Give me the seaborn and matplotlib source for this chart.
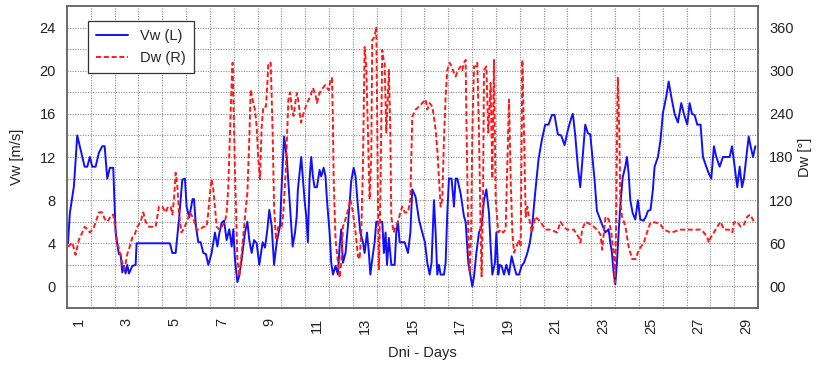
import matplotlib
matplotlib.use("Agg")
import matplotlib.pyplot as plt
import pandas as pd
import seaborn as sns
from matplotlib.lines import Line2D

# ---------------- data ----------------
vw_day = [0.54, 0.62, 0.79, 0.93, 1.07, 1.24, 1.35, 1.46, 1.56, 1.70, 1.84, 1.98, 2.08, 2.19, 2.30, 2.44,
          2.54, 2.61, 2.68, 2.75, 2.82, 2.89, 2.96, 3.03, 3.10, 3.24, 3.38, 3.42, 4.82, 4.92, 5.06, 5.20,
          5.34, 5.45, 5.52, 5.63, 5.77, 5.83, 5.91, 6.01, 6.11, 6.22, 6.33, 6.43, 6.57, 6.71, 6.81, 6.89,
          6.99, 7.09, 7.20, 7.31, 7.41, 7.48, 7.55, 7.65, 7.73, 7.83, 7.97, 8.07, 8.15, 8.25, 8.35, 8.46,
          8.57, 8.71, 8.81, 8.91, 8.99, 9.09, 9.19, 9.30, 9.44, 9.51, 9.61, 9.72, 9.86, 9.97, 10.07, 10.14,
          10.19, 10.33, 10.40, 10.47, 10.54, 10.61, 10.68, 10.75, 10.82, 10.89, 10.99, 11.10, 11.17, 11.27,
          11.35, 11.41, 11.52, 11.59, 11.66, 11.77, 11.87, 11.94, 12.01, 12.08, 12.19, 12.29, 12.43, 12.53,
          12.61, 12.71, 12.81, 12.92, 12.99, 13.09, 13.17, 13.23, 13.31, 13.41, 13.48, 13.62, 13.73, 13.80,
          13.87, 13.93, 14.01, 14.11, 14.25, 14.32, 14.39, 14.46, 14.67, 14.81, 14.91, 14.99, 15.13, 15.27,
          15.41, 15.52, 15.62, 15.72, 15.80, 15.90, 15.97, 16.04, 16.11, 16.18, 16.32, 16.39, 16.46, 16.53,
          16.64, 16.74, 16.81, 16.88, 17.02, 17.16, 17.23, 17.34, 17.44, 17.51, 17.58, 17.68, 17.79, 17.90,
          18.00, 18.10, 18.21, 18.28, 18.35, 18.46, 18.52, 18.60, 18.66, 18.74, 18.84, 18.94, 19.05, 19.16,
          19.26, 19.36, 19.47, 19.58, 19.68, 19.82, 19.92, 20.01, 20.15, 20.29, 20.43, 20.57, 20.71, 20.85,
          20.96, 21.10, 21.24, 21.38, 21.52, 21.66, 21.73, 21.83, 21.94, 22.04, 22.14, 22.25, 22.36, 22.46,
          22.56, 22.64, 22.74, 22.88, 22.98, 23.09, 23.23, 23.30, 23.37, 23.44, 23.51, 23.58, 23.65, 23.72,
          23.82, 23.93, 24.00, 24.07, 24.14, 24.24, 24.35, 24.46, 24.56, 24.70, 24.80, 24.88, 24.99, 25.09,
          25.16, 25.30, 25.41, 25.51, 25.65, 25.75, 25.86, 26.00, 26.14, 26.28, 26.39, 26.53, 26.63, 26.73,
          26.84, 26.95, 27.09, 27.19, 27.33, 27.43, 27.54, 27.65, 27.75, 27.89, 28.03, 28.21, 28.31, 28.41,
          28.52, 28.63, 28.73, 28.83, 28.91, 29.01, 29.11, 29.19, 29.29, 29.39]
vw_val = [4.0, 6.8, 9.3, 14.0, 12.7, 11.1, 11.1, 12.0, 11.1, 11.1, 12.4, 13.0, 13.0, 10.0, 11.0, 11.0,
          5.0, 3.9, 3.0, 3.0, 1.3, 1.9, 1.2, 2.0, 1.2, 1.9, 2.0, 4.0, 4.0, 3.1, 3.1, 6.2,
          9.9, 10.0, 7.4, 6.4, 8.1, 8.1, 5.6, 4.1, 4.1, 3.1, 3.0, 2.0, 3.1, 5.0, 3.7, 4.9,
          5.9, 6.1, 4.3, 5.3, 3.7, 5.3, 2.5, 0.4, 1.0, 2.5, 5.0, 6.0, 4.3, 3.1, 4.3, 4.0,
          2.0, 4.1, 3.6, 5.3, 7.1, 5.6, 2.0, 4.1, 5.6, 9.3, 13.9, 12.0, 7.4, 3.7, 5.0, 6.5,
          9.0, 12.0, 10.0, 8.0, 6.5, 4.1, 10.0, 12.0, 10.2, 9.2, 9.2, 10.8, 10.2, 11.0,
          10.2, 8.0, 5.0, 2.2, 1.1, 1.9, 1.1, 3.7, 5.3, 2.2, 3.1, 5.6, 9.8, 11.0,
          10.2, 7.4, 5.0, 4.1, 3.1, 5.0, 3.1, 1.1, 2.5, 4.1, 6.0, 6.0, 6.0, 3.1,
          5.0, 2.0, 4.5, 2.0, 2.0, 5.0, 6.0, 4.1, 4.1, 3.1, 5.0, 9.0, 8.3, 6.2,
          5.0, 4.1, 2.2, 1.1, 2.2, 8.0, 5.0, 1.1, 2.0, 1.1, 1.1, 2.2, 6.8, 10.0,
          10.0, 7.4, 10.0, 10.0, 8.6, 6.5, 6.0, 2.2, 0.9, 0.0, 0.9, 3.1, 5.0, 5.6,
          8.0, 9.0, 6.8, 3.7, 1.1, 2.2, 5.0, 1.1, 2.0, 1.9, 1.1, 2.0, 1.1, 2.8,
          1.9, 1.1, 1.1, 1.9, 2.2, 3.1, 4.0, 5.3, 8.7, 11.8, 13.6, 15.0, 15.0, 15.9,
          15.9, 14.1, 14.0, 13.1, 14.5, 15.6, 16.0, 14.0, 11.1, 9.2, 12.0, 15.0, 14.2, 14.1,
          11.8, 9.9, 7.0, 6.2, 5.6, 5.0, 5.3, 4.1, 3.1, 1.3, 0.2, 2.2, 5.0, 7.4,
          10.1, 11.1, 12.0, 10.5, 8.0, 6.8, 6.2, 8.0, 6.2, 6.1, 6.5, 7.0, 7.1, 9.0,
          11.1, 12.0, 13.6, 16.1, 17.6, 19.0, 17.6, 16.0, 15.2, 17.0, 16.0, 15.0, 17.0, 16.0,
          15.9, 15.0, 15.0, 12.0, 11.1, 10.5, 10.0, 13.0, 12.0, 11.1, 12.0, 12.0, 12.0, 13.0,
          11.1, 9.2, 11.1, 9.2, 10.0, 12.0, 13.9, 13.0, 12.0, 13.0]

dw_day = [0.54, 0.72, 0.86, 1.00, 1.14, 1.24, 1.35, 1.46, 1.60, 1.70, 1.84, 1.98, 2.08, 2.19, 2.33, 2.44,
          2.54, 2.61, 2.72, 2.82, 2.92, 3.03, 3.14, 3.24, 3.34, 3.45, 3.59, 3.70, 3.80, 3.94, 4.22, 4.29,
          4.36, 4.50, 4.64, 4.74, 4.85, 4.92, 4.99, 5.06, 5.13, 5.20, 5.30, 5.38, 5.52, 5.66, 5.80, 5.94,
          6.08, 6.22, 6.36, 6.43, 6.50, 6.57, 6.64, 6.71, 6.78, 6.89, 6.99, 7.13, 7.20, 7.27, 7.34, 7.41,
          7.45, 7.55, 7.65, 7.73, 7.83, 7.97, 8.07, 8.15, 8.21, 8.29, 8.39, 8.46, 8.53, 8.60, 8.67, 8.74,
          8.85, 8.91, 8.95, 9.05, 9.13, 9.19, 9.27, 9.37, 9.51, 9.58, 9.69, 9.79, 9.86, 9.94, 10.01, 10.08,
          10.15, 10.22, 10.32, 10.43, 10.57, 10.71, 10.82, 10.92, 10.99, 11.10, 11.24, 11.34, 11.48, 11.55,
          11.62, 11.66, 11.69, 11.77, 11.87, 11.94, 12.01, 12.08, 12.22, 12.33, 12.39, 12.50, 12.61, 12.71,
          12.78, 12.85, 12.92, 12.99, 13.06, 13.13, 13.20, 13.27, 13.31, 13.41, 13.48, 13.51, 13.55, 13.59,
          13.65, 13.73, 13.79, 13.83, 13.90, 14.01, 14.07, 14.11, 14.21, 14.29, 14.39, 14.49, 14.57, 14.67,
          14.81, 14.91, 14.99, 15.13, 15.27, 15.41, 15.55, 15.62, 15.72, 15.83, 15.90, 15.97, 16.04, 16.11,
          16.18, 16.25, 16.32, 16.39, 16.46, 16.56, 16.64, 16.74, 16.81, 16.92, 17.02, 17.09, 17.16, 17.23,
          17.27, 17.34, 17.40, 17.46, 17.51, 17.58, 17.65, 17.72, 17.79, 17.86, 17.90, 17.96, 18.00, 18.10,
          18.18, 18.28, 18.35, 18.42, 18.49, 18.60, 18.70, 18.80, 18.91, 19.05, 19.12, 19.19, 19.26, 19.36,
          19.47, 19.54, 19.61, 19.68, 19.75, 19.82, 19.89, 20.01, 20.15, 20.37, 20.58, 20.79, 21.07, 21.21,
          21.35, 21.49, 21.77, 21.98, 22.05, 22.12, 22.26, 22.47, 22.61, 22.75, 22.89, 22.96, 23.10, 23.24,
          23.34, 23.44, 23.49, 23.54, 23.60, 23.62, 23.68, 23.72, 23.79, 23.87, 23.94, 24.07, 24.22, 24.36,
          24.50, 24.71, 24.85, 24.99, 25.20, 25.41, 25.55, 25.83, 25.97, 26.25, 26.53, 26.88, 27.09, 27.23,
          27.37, 27.44, 27.51, 27.65, 27.79, 27.93, 28.07, 28.28, 28.42, 28.49, 28.63, 28.77, 28.91, 29.05,
          29.17, 29.33]
dw_val = [55, 61, 44, 65, 75, 83, 80, 75, 80, 89, 103, 103, 94, 90, 97, 100,
          79, 61, 47, 33, 24, 45, 56, 68, 72, 83, 90, 103, 90, 83, 83, 97,
          111, 111, 103, 111, 111, 100, 121, 158, 140, 103, 75, 79, 89, 103, 95, 79,
          79, 83, 83, 103, 130, 149, 135, 110, 83, 79, 83, 90, 103, 139, 214, 283,
          311, 160, 38, 14, 45, 97, 130, 204, 274, 260, 245, 222, 176, 149, 222, 250,
          250, 283, 311, 311, 214, 111, 65, 83, 83, 103, 167, 260, 270, 246, 237, 255,
          269, 255, 228, 241, 255, 264, 276, 268, 255, 269, 276, 280, 273, 285,
          290, 230, 150, 65, 33, 12, 33, 83, 97, 111, 121, 103, 75, 42,
          38, 75, 167, 333, 306, 214, 121, 180, 343, 347, 361, 262, 121, 24,
          121, 329, 315, 312, 214, 301, 214, 97, 75, 83, 90, 103, 111, 103,
          103, 121, 236, 246, 250, 255, 260, 246, 255, 250, 236, 218, 190, 150,
          111, 121, 204, 264, 301, 311, 306, 297, 292, 301, 306, 301, 311, 315,
          214, 75, 19, 75, 214, 306, 306, 311, 214, 75, 14, 121, 301, 306,
          214, 283, 150, 315, 121, 75, 79, 75, 79, 260, 150, 75, 47, 55,
          65, 55, 315, 214, 97, 111, 96, 75, 97, 90, 79, 79, 75, 90,
          83, 79, 79, 68, 61, 79, 90, 86, 83, 79, 72, 51, 97, 93,
          75, 47, 6, 75, 260, 290, 214, 121, 97, 90, 83, 55, 38, 38,
          51, 61, 76, 89, 89, 86, 79, 75, 76, 79, 79, 79, 79, 75,
          68, 61, 68, 75, 83, 90, 79, 79, 75, 89, 90, 83, 86, 97,
          100, 90]

x_ticks = list(range(1, 30, 2))
left_ticks = [0, 4, 8, 12, 16, 20, 24]
right_ticks = [0, 60, 120, 180, 240, 300, 360]
right_labels = ["00", "60", "120", "180", "240", "300", "360"]

# ---------------- style ----------------
sns.set_style("white")
plt.rcParams['font.family'] = ['Liberation Sans', 'DejaVu Sans']

W, H = 816, 366
fig = plt.figure(figsize=(W / 100, H / 100), dpi=100)
L, R, T, B = 67, 758, 6, 308
ax = fig.add_axes([L / W, 1 - B / H, (R - L) / W, (B - T) / H])
ax2 = ax.twinx()

df_vw = pd.DataFrame({"day": vw_day, "Vw": vw_val})
df_dw = pd.DataFrame({"day": dw_day, "Dw": dw_val})

blue = "#1010ff"
red = "#ff1a1a"
sns.lineplot(data=df_vw, x="day", y="Vw", ax=ax, color=blue, linewidth=1.4,
             estimator=None, sort=False, legend=False)
sns.lineplot(data=df_dw, x="day", y="Dw", ax=ax2, color=red, linewidth=1.4,
             estimator=None, sort=False, legend=False, linestyle=(0, (2.6, 1.4)))

ax.set_xlim(0.5, 29.5)
ax.set_ylim(-2, 26)
ax2.set_ylim(-30, 390)

# grid
grid_kw = dict(color="#8c8c8c", linestyle=(0, (1, 1.3)), linewidth=0.8)
ax.set_xticks(x_ticks)
ax.set_xticks([d + 0.5 for d in range(1, 29)], minor=True)
ax.set_yticks(left_ticks)
ax.set_yticks([v for v in range(2, 25, 4)], minor=True)
ax.grid(which="minor", axis="x", **grid_kw)
ax.grid(which="both", axis="y", **grid_kw)
ax.set_axisbelow(True)

ax.set_xticklabels([str(t) for t in x_ticks], rotation=90, fontsize=10.5)
ax.tick_params(axis="x", which="both", length=0, pad=7, labelcolor="#222222")
ax.tick_params(axis="y", which="both", length=0, pad=8, labelsize=10.5, labelcolor="#222222")

ax2.set_yticks(right_ticks)
ax2.set_yticklabels(right_labels)
ax2.tick_params(axis="y", length=0, pad=8, labelsize=10.5, labelcolor="#222222")
ax2.grid(False)

for a in (ax, ax2):
    for s in a.spines.values():
        s.set_color("#666666")
        s.set_linewidth(1.1)
        s.set_visible(True)

ax.set_xlabel("Dni - Days", fontsize=10.5, color="#222222")
ax.xaxis.set_label_coords(0.515, -0.125)
ax.set_ylabel("Vw [m/s]", fontsize=10.5, color="#222222")
ax.yaxis.set_label_coords(-0.062, 0.5)
ax2.set_ylabel("Dw [°]", fontsize=10.5, color="#222222")
ax2.yaxis.set_label_coords(1.058, 0.5)

handles = [Line2D([], [], color=blue, linewidth=1.4),
           Line2D([], [], color=red, linewidth=1.4, linestyle=(0, (2.6, 1.4)))]
leg = ax2.legend(handles, ["Vw (L)", "Dw (R)"], loc="upper left",
                 bbox_to_anchor=(88 / W, 1 - 21 / H), bbox_transform=fig.transFigure,
                 fontsize=10.5, frameon=True, fancybox=False, framealpha=1,
                 borderaxespad=0, handlelength=2.2, handletextpad=0.8,
                 borderpad=0.55, labelspacing=0.55)
leg.get_frame().set_edgecolor("#333333")
leg.get_frame().set_linewidth(0.9)

fig.savefig("out.png", dpi=100)
